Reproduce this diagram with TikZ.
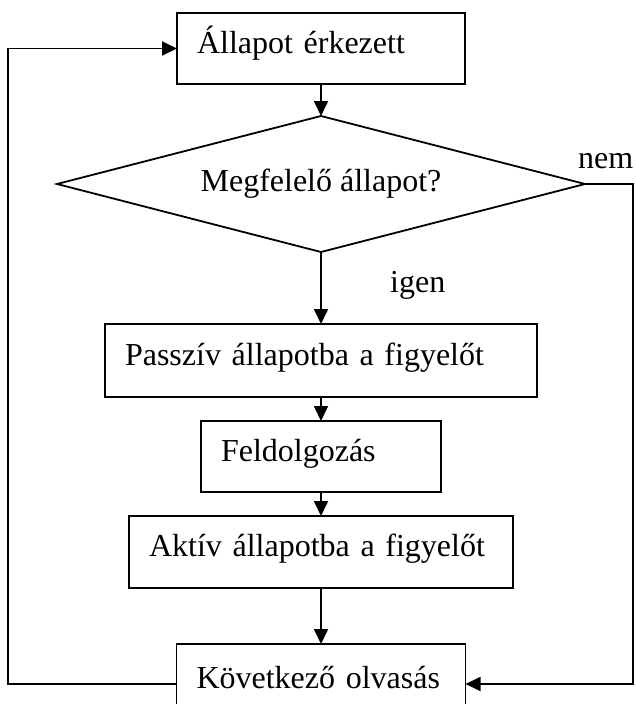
\documentclass[tikz,border=0pt]{standalone}
\usepackage{fontspec}
\setmainfont{Liberation Serif}
\usetikzlibrary{positioning,arrows.meta,shapes.geometric}

\begin{document}
\begin{tikzpicture}[x=1pt, y=-1pt,
  stepbox/.style={draw, line width=1.8pt, inner xsep=20pt, inner ysep=0pt,
                  outer sep=0pt, align=left, text height=22pt, text depth=13pt,
                  font=\fontsize{32}{38}\selectfont},
  decision/.style={draw, diamond, aspect=3.9, line width=1.8pt, inner sep=0pt,
                   outer sep=0pt, minimum width=528pt, minimum height=136pt,
                   font=\fontsize{32}{38}\selectfont},
  lbl/.style={font=\fontsize{32}{38}\selectfont, inner sep=0pt, anchor=base west},
  arr/.style={line width=1.8pt, -{Triangle[length=15pt,width=14pt]}},
  ]
  \useasboundingbox (0,0) rectangle (635,704);

  \node[stepbox, text width=248pt, minimum height=71pt] (start) at (321,48.5)
    {Állapot érkezett};
  \node[decision, below=32pt of start] (check) {Megfelelő állapot?};
  \node[stepbox, below=72pt of check, text width=392pt, minimum height=73pt]
    (passive) {Passzív állapotba a figyelőt};
  \node[stepbox, below=24pt of passive, text width=200pt, minimum height=71pt]
    (process) {Feldolgozás};
  \node[stepbox, below=24pt of process, text width=344pt, minimum height=72pt]
    (active) {Aktív állapotba a figyelőt};
  \node[stepbox, below=56pt of active, text width=249pt, minimum height=80pt]
    (next) {Következő olvasás};

  \node[lbl] (nem) at ([shift={(-7,-16)}]check.east) {nem};
  \node[lbl] (igen) at ([shift={(69,40)}]check.south) {igen};

  \coordinate (lft) at (8,0);
  \coordinate (rgt) at (633,0);

  \draw[arr] (start) -- (check);
  \draw[arr] (check) -- (passive);
  \draw[arr] (passive) -- (process);
  \draw[arr] (process) -- (active);
  \draw[arr] (active) -- (next);
  \draw[arr] (check.east) -- (check.east -| rgt) |- (next.east);
  \draw[arr] (next.west) -- (next.west -| lft) |- (start.west);
\end{tikzpicture}
\end{document}
